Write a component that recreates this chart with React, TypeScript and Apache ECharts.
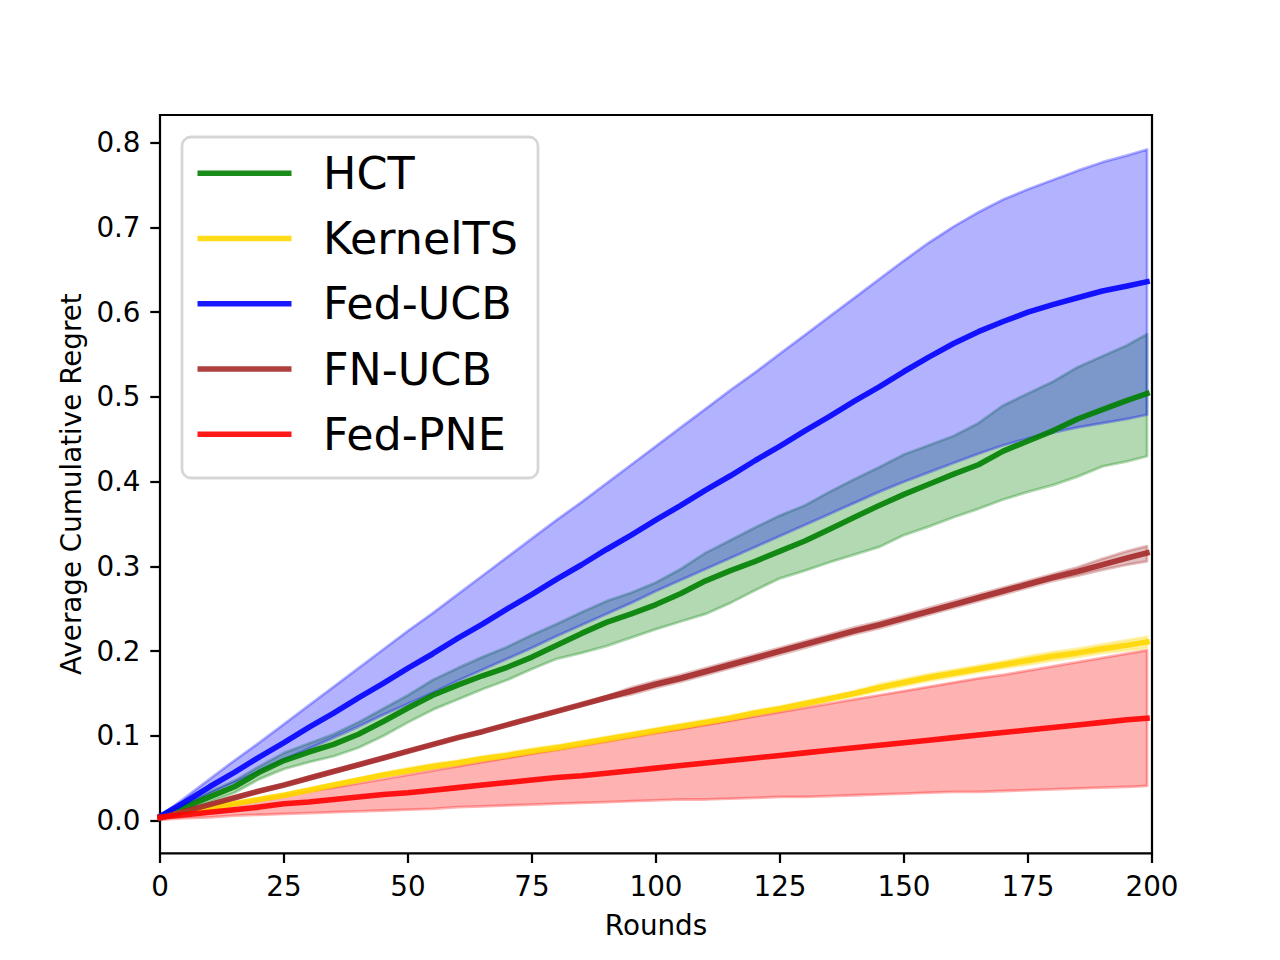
import React, { useEffect, useRef } from "react";
import * as echarts from "echarts";

const rounds = [0, 5, 10, 15, 20, 25, 30, 35, 40, 45, 50, 55, 60, 65, 70, 75, 80, 85, 90, 95, 100, 105, 110, 115, 120, 125, 130, 135, 140, 145, 150, 155, 160, 165, 170, 175, 180, 185, 190, 195, 199];

const hctMean = [0.005, 0.016, 0.028, 0.040, 0.057, 0.071, 0.081, 0.090, 0.102, 0.117, 0.133, 0.148, 0.160, 0.171, 0.181, 0.193, 0.207, 0.221, 0.234, 0.244, 0.255, 0.268, 0.283, 0.295, 0.306, 0.318, 0.330, 0.344, 0.358, 0.372, 0.385, 0.397, 0.409, 0.420, 0.436, 0.448, 0.460, 0.474, 0.485, 0.496, 0.504];
const hctLow = [0.003, 0.012, 0.022, 0.033, 0.049, 0.061, 0.069, 0.076, 0.086, 0.100, 0.116, 0.131, 0.143, 0.155, 0.166, 0.179, 0.191, 0.198, 0.206, 0.216, 0.226, 0.235, 0.244, 0.257, 0.272, 0.286, 0.295, 0.305, 0.314, 0.323, 0.337, 0.347, 0.358, 0.368, 0.379, 0.388, 0.396, 0.406, 0.418, 0.424, 0.430];
const hctHigh = [0.006, 0.020, 0.034, 0.047, 0.064, 0.080, 0.091, 0.102, 0.116, 0.132, 0.148, 0.166, 0.180, 0.193, 0.205, 0.219, 0.232, 0.246, 0.259, 0.269, 0.281, 0.297, 0.316, 0.331, 0.346, 0.360, 0.372, 0.388, 0.403, 0.417, 0.432, 0.443, 0.454, 0.469, 0.490, 0.504, 0.518, 0.535, 0.548, 0.561, 0.574];

const ktsMean = [0.005, 0.010, 0.015, 0.020, 0.025, 0.030, 0.036, 0.042, 0.048, 0.054, 0.059, 0.064, 0.068, 0.073, 0.077, 0.082, 0.086, 0.091, 0.096, 0.101, 0.106, 0.111, 0.116, 0.121, 0.127, 0.132, 0.138, 0.144, 0.150, 0.157, 0.163, 0.169, 0.174, 0.179, 0.184, 0.189, 0.194, 0.198, 0.203, 0.207, 0.211];
const ktsLow = [0.004, 0.008, 0.013, 0.018, 0.023, 0.028, 0.034, 0.040, 0.046, 0.052, 0.056, 0.061, 0.065, 0.070, 0.074, 0.079, 0.083, 0.088, 0.093, 0.098, 0.103, 0.108, 0.113, 0.118, 0.124, 0.129, 0.135, 0.141, 0.147, 0.153, 0.159, 0.165, 0.170, 0.175, 0.180, 0.184, 0.189, 0.193, 0.198, 0.201, 0.204];
const ktsHigh = [0.006, 0.012, 0.017, 0.022, 0.027, 0.032, 0.038, 0.044, 0.050, 0.056, 0.062, 0.067, 0.071, 0.076, 0.080, 0.085, 0.089, 0.094, 0.099, 0.104, 0.109, 0.114, 0.119, 0.124, 0.130, 0.135, 0.141, 0.147, 0.153, 0.161, 0.167, 0.173, 0.178, 0.183, 0.188, 0.194, 0.199, 0.203, 0.208, 0.213, 0.217];

const fucbMean = [0.005, 0.022, 0.040, 0.057, 0.075, 0.092, 0.110, 0.127, 0.145, 0.162, 0.180, 0.197, 0.215, 0.232, 0.250, 0.267, 0.285, 0.302, 0.320, 0.337, 0.355, 0.372, 0.390, 0.407, 0.425, 0.442, 0.460, 0.477, 0.495, 0.512, 0.530, 0.547, 0.563, 0.577, 0.589, 0.600, 0.609, 0.617, 0.625, 0.631, 0.636];
const fucbLow = [0.005, 0.018, 0.032, 0.045, 0.058, 0.072, 0.085, 0.098, 0.111, 0.125, 0.138, 0.151, 0.165, 0.178, 0.191, 0.204, 0.218, 0.231, 0.244, 0.257, 0.271, 0.284, 0.297, 0.310, 0.323, 0.336, 0.349, 0.362, 0.375, 0.388, 0.400, 0.411, 0.422, 0.433, 0.443, 0.451, 0.458, 0.464, 0.469, 0.474, 0.479];
const fucbHigh = [0.005, 0.027, 0.049, 0.071, 0.092, 0.114, 0.136, 0.158, 0.180, 0.202, 0.224, 0.245, 0.267, 0.289, 0.311, 0.333, 0.355, 0.376, 0.398, 0.420, 0.442, 0.464, 0.486, 0.508, 0.529, 0.551, 0.573, 0.595, 0.617, 0.639, 0.661, 0.682, 0.701, 0.718, 0.733, 0.745, 0.756, 0.767, 0.777, 0.785, 0.792];

const fnMean = [0.003, 0.011, 0.019, 0.027, 0.035, 0.042, 0.050, 0.058, 0.066, 0.074, 0.082, 0.090, 0.098, 0.105, 0.113, 0.121, 0.129, 0.137, 0.145, 0.153, 0.161, 0.168, 0.176, 0.184, 0.192, 0.200, 0.208, 0.216, 0.224, 0.231, 0.239, 0.247, 0.255, 0.263, 0.271, 0.279, 0.287, 0.294, 0.302, 0.310, 0.316];
const fnLow = [0.002, 0.010, 0.018, 0.025, 0.033, 0.041, 0.049, 0.057, 0.064, 0.072, 0.080, 0.088, 0.096, 0.104, 0.112, 0.120, 0.128, 0.136, 0.143, 0.149, 0.157, 0.164, 0.172, 0.180, 0.188, 0.196, 0.204, 0.212, 0.220, 0.227, 0.235, 0.243, 0.251, 0.259, 0.267, 0.275, 0.283, 0.289, 0.296, 0.302, 0.306];
const fnHigh = [0.004, 0.012, 0.020, 0.028, 0.036, 0.044, 0.052, 0.060, 0.067, 0.075, 0.083, 0.091, 0.099, 0.107, 0.115, 0.123, 0.131, 0.139, 0.147, 0.157, 0.165, 0.172, 0.180, 0.188, 0.196, 0.204, 0.212, 0.220, 0.228, 0.235, 0.243, 0.251, 0.259, 0.267, 0.275, 0.283, 0.291, 0.299, 0.309, 0.318, 0.324];

const pneMean = [0.004, 0.007, 0.010, 0.013, 0.016, 0.020, 0.022, 0.025, 0.028, 0.031, 0.033, 0.036, 0.039, 0.042, 0.045, 0.048, 0.051, 0.053, 0.056, 0.059, 0.062, 0.065, 0.068, 0.071, 0.074, 0.077, 0.080, 0.083, 0.086, 0.089, 0.092, 0.095, 0.098, 0.101, 0.104, 0.107, 0.110, 0.113, 0.116, 0.119, 0.121];
const pneLow = [0.001, 0.003, 0.004, 0.006, 0.007, 0.008, 0.009, 0.010, 0.011, 0.012, 0.013, 0.014, 0.016, 0.017, 0.018, 0.019, 0.020, 0.021, 0.022, 0.023, 0.024, 0.025, 0.025, 0.026, 0.027, 0.028, 0.028, 0.029, 0.030, 0.031, 0.032, 0.033, 0.034, 0.034, 0.035, 0.036, 0.037, 0.038, 0.039, 0.040, 0.041];
const pneHigh = [0.005, 0.010, 0.015, 0.020, 0.025, 0.030, 0.035, 0.039, 0.044, 0.049, 0.054, 0.059, 0.064, 0.069, 0.074, 0.079, 0.084, 0.089, 0.094, 0.099, 0.104, 0.108, 0.113, 0.118, 0.123, 0.128, 0.133, 0.138, 0.143, 0.148, 0.153, 0.158, 0.163, 0.168, 0.172, 0.177, 0.182, 0.187, 0.192, 0.197, 0.201];

const xTicks = [0, 25, 50, 75, 100, 125, 150, 175, 200];
const yTicks = [0, 0.1, 0.2, 0.3, 0.4, 0.5, 0.6, 0.7, 0.8];

const seriesNames = ["HCT", "KernelTS", "Fed-UCB", "FN-UCB", "Fed-PNE"];
const seriesRGB = ["0,128,0", "255,215,0", "0,0,255", "165,42,42", "255,0,0"];
const seriesMeans = [hctMean, ktsMean, fucbMean, fnMean, pneMean];
const seriesLows = [hctLow, ktsLow, fucbLow, fnLow, pneLow];
const seriesHighs = [hctHigh, ktsHigh, fucbHigh, fnHigh, pneHigh];

const FONT = "DejaVu Sans";
const PT = 200 / 72;
const LINE_W = 2 * PT;

function bandSeries(idx: number) {
  const low = seriesLows[idx];
  const high = seriesHighs[idx];
  const rgb = seriesRGB[idx];
  return {
    type: "custom",
    name: seriesNames[idx] + " band",
    coordinateSystem: "cartesian2d",
    silent: true,
    z: 2,
    data: [[100, 0.4]],
    renderItem: (_params: any, api: any) => {
      const pts: number[][] = [];
      for (let i = 0; i < rounds.length; i++) pts.push(api.coord([rounds[i], high[i]]));
      for (let i = rounds.length - 1; i >= 0; i--) pts.push(api.coord([rounds[i], low[i]]));
      return {
        type: "polygon",
        shape: { points: pts },
        style: {
          fill: `rgba(${rgb},0.3)`,
          stroke: `rgba(${rgb},0.3)`,
          lineWidth: 1 * PT,
          lineJoin: "round",
        },
      };
    },
  };
}

function lineSeries(idx: number) {
  const mean = seriesMeans[idx];
  const color = `rgba(${seriesRGB[idx]},0.9)`;
  return {
    type: "line",
    name: seriesNames[idx],
    z: 3,
    silent: true,
    symbol: "none",
    showSymbol: false,
    data: rounds.map((r, i) => [r, mean[i]]),
    lineStyle: { color, width: LINE_W, cap: "square", join: "round" },
    itemStyle: { color },
  };
}

export default function App() {
  const ref = useRef<HTMLDivElement>(null);

  useEffect(() => {
    if (!ref.current) return;
    const chart = echarts.init(ref.current, undefined, { renderer: "svg" });

    const legendTop = 137;
    const rowY0 = 173.3;
    const rowGap = 65.25;
    const legendElems: any[] = [
      {
        type: "rect",
        shape: { x: 182, y: legendTop, width: 356, height: 341, r: 9 },
        style: { fill: "rgba(255,255,255,0.8)", stroke: "rgba(204,204,204,0.8)", lineWidth: 1 * PT },
        z: 100,
      },
    ];
    seriesNames.forEach((name, i) => {
      const y = rowY0 + i * rowGap;
      legendElems.push({
        type: "line",
        shape: { x1: 197.5, y1: y, x2: 291.5, y2: y },
        style: { stroke: `rgba(${seriesRGB[i]},0.9)`, lineWidth: LINE_W },
        z: 101,
      });
      legendElems.push({
        type: "text",
        x: 323,
        y: y,
        style: {
          text: name,
          fill: "#000",
          font: `${16 * PT}px "${FONT}"`,
          textVerticalAlign: "middle",
          verticalAlign: "middle",
          align: "left",
        },
        z: 101,
      });
    });

    const axisCommon = {
      axisLine: { show: false, onZero: false },
      splitLine: { show: false },
      nameTextStyle: { fontSize: 10 * PT, color: "#000", fontFamily: FONT },
    };
    const tickCommon = {
      show: true,
      inside: false,
      length: 3.5 * PT,
      lineStyle: { color: "#000", width: 0.8 * PT },
    };

    const option: any = {
      animation: false,
      textStyle: { fontFamily: FONT },
      grid: {
        left: 160,
        right: 128,
        top: 115,
        bottom: 106.7,
        show: true,
        borderColor: "#000",
        borderWidth: 0.8 * PT,
        backgroundColor: "transparent",
        containLabel: false,
      },
      xAxis: {
        type: "value",
        position: "bottom",
        min: 0,
        max: 200,
        interval: 25,
        name: "Rounds",
        nameLocation: "middle",
        nameGap: 58,
        ...axisCommon,
        axisTick: { ...tickCommon, customValues: xTicks },
        axisLabel: {
          customValues: xTicks,
          margin: 7 * PT,
          fontSize: 10 * PT,
          color: "#000",
          fontFamily: FONT,
          formatter: (v: number) => String(v),
        },
      },
      yAxis: {
        type: "value",
        position: "left",
        min: -0.0385,
        max: 0.8327,
        name: "Average Cumulative Regret",
        nameLocation: "middle",
        nameGap: 75,
        nameRotate: 90,
        ...axisCommon,
        axisTick: { ...tickCommon, customValues: yTicks },
        axisLabel: {
          customValues: yTicks,
          margin: 7 * PT,
          fontSize: 10 * PT,
          color: "#000",
          fontFamily: FONT,
          formatter: (v: number) => v.toFixed(1),
        },
      },
      graphic: { elements: legendElems },
      series: [
        ...seriesNames.map((_, i) => bandSeries(i)),
        ...seriesNames.map((_, i) => lineSeries(i)),
      ],
    };

    chart.setOption(option);
    return () => chart.dispose();
  }, []);

  return (
    <div
      ref={ref}
      style={{ position: "fixed", left: 0, top: 0, width: 1280, height: 960, background: "#fff" }}
    />
  );
}
